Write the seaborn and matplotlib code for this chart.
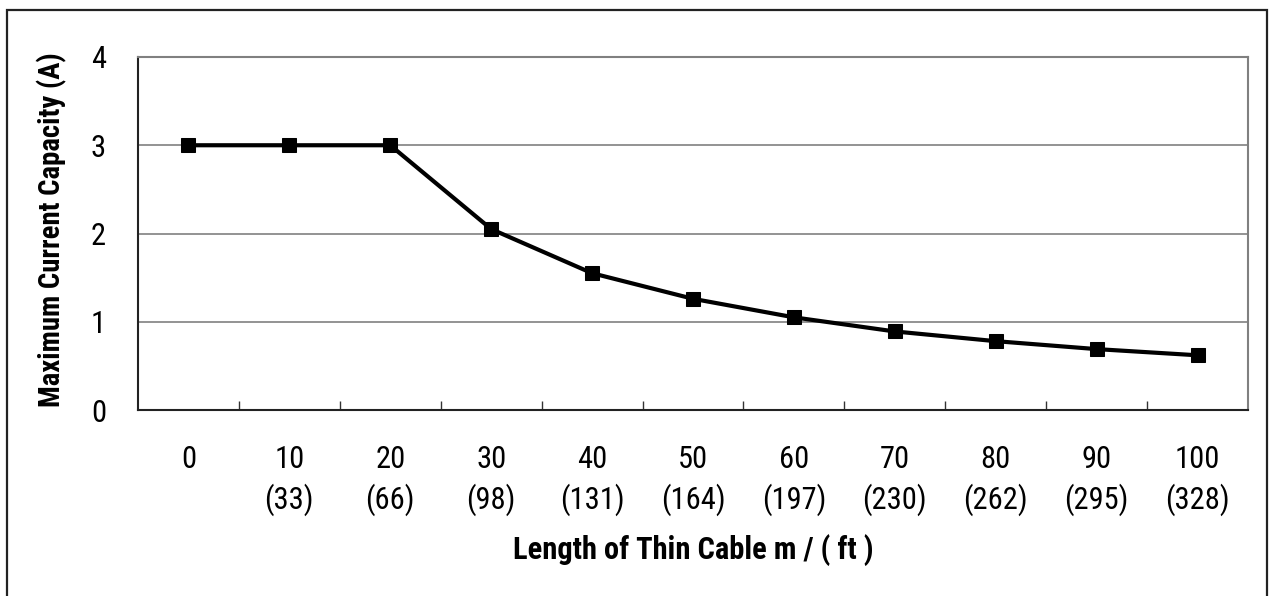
import matplotlib
matplotlib.use("Agg")
import matplotlib.pyplot as plt
import matplotlib.patches as mpatches
from matplotlib import font_manager as fm
import seaborn as sns
import pandas as pd

lengths_m = ["0", "10", "20", "30", "40", "50", "60", "70", "80", "90", "100"]
lengths_ft = ["", "(33)", "(66)", "(98)", "(131)", "(164)", "(197)", "(230)", "(262)", "(295)", "(328)"]
current_a = [3.0, 3.0, 3.0, 2.05, 1.55, 1.26, 1.05, 0.89, 0.78, 0.69, 0.62]
y_ticks = [0, 1, 2, 3, 4]

sns.set_theme(style="white")

# choose a condensed sans family if one is installed
names = {f.name for f in fm.fontManager.ttflist}
family, stretch, fs = None, "normal", 22
for cand in ["Liberation Sans Narrow", "Arial Narrow", "Roboto Condensed", "Open Sans Condensed"]:
    if cand in names:
        family = cand
        break
if family is None:
    has_cond = any(f.name == "DejaVu Sans" and "Condensed" in f.fname for f in fm.fontManager.ttflist)
    if has_cond:
        family, stretch, fs = "DejaVu Sans", "condensed", 20
    else:
        family, fs = "Liberation Sans", 19
plt.rcParams['font.family'] = [family, 'DejaVu Sans']
plt.rcParams['font.stretch'] = stretch
plt.rcParams['text.color'] = 'black'
plt.rcParams['xtick.color'] = 'black'
plt.rcParams['ytick.color'] = 'black'
plt.rcParams['axes.labelcolor'] = 'black'

W, H = 1274, 596
fig = plt.figure(figsize=(W / 100, H / 100), dpi=100)
fig.patch.set_facecolor("white")

fig.patches.append(mpatches.Rectangle((7 / W, -0.05), (1267 - 7) / W, (H - 10) / H + 0.05,
                                      transform=fig.transFigure, fill=False,
                                      edgecolor="#222222", linewidth=1.6))

left, right, top, bottom = 138, 1248, 57, 410
ax = fig.add_axes([left / W, 1 - bottom / H, (right - left) / W, (bottom - top) / H])

df = pd.DataFrame({"pos": list(range(len(lengths_m))), "current": current_a})
sns.lineplot(data=df, x="pos", y="current", ax=ax, color="black", linewidth=3.0,
             marker="s", markersize=9.5, markeredgecolor="black", markerfacecolor="black")

ax.set_xlim(-0.5, len(lengths_m) - 0.5)
ax.set_ylim(0, 4)
ax.set_yticks(y_ticks)
ax.set_yticklabels([str(v) for v in y_ticks], fontsize=fs)
for v in y_ticks[1:]:
    ax.axhline(v, color="#808080", linewidth=1.2, zorder=0)

labels = [m if ft == "" else f"{m}\n{ft}" for m, ft in zip(lengths_m, lengths_ft)]
ax.set_xticks(list(range(len(lengths_m))))
ax.set_xticklabels(labels, fontsize=fs, linespacing=1.37)
ax.set_xticks([i + 0.5 for i in range(len(lengths_m) - 1)], minor=True)
ax.tick_params(axis="x", which="major", length=0, pad=25)
ax.tick_params(axis="x", which="minor", direction="in", length=6.5, width=1.0,
               color="#333333", bottom=True)
ax.tick_params(axis="y", which="major", length=0, pad=23)

for s in ["left", "bottom"]:
    ax.spines[s].set_color("#222222")
    ax.spines[s].set_linewidth(1.5)
for s in ["top", "right"]:
    ax.spines[s].set_color("#808080")
    ax.spines[s].set_linewidth(1.5)

ax.set_xlabel("Length of Thin Cable m / ( ft )", fontsize=fs, fontweight="bold")
ax.xaxis.set_label_coords(0.5, (596 - 550 - (H - bottom)) / (bottom - top))
ax.xaxis.label.set_va("center")
ax.set_ylabel("Maximum Current Capacity (A)", fontsize=fs * 0.94, fontweight="bold")
ax.yaxis.set_label_coords((52 - left) / (right - left), (H - 230 - (H - bottom)) / (bottom - top))
ax.yaxis.label.set_va("center")

fig.savefig("out.png", dpi=100, facecolor="white")
